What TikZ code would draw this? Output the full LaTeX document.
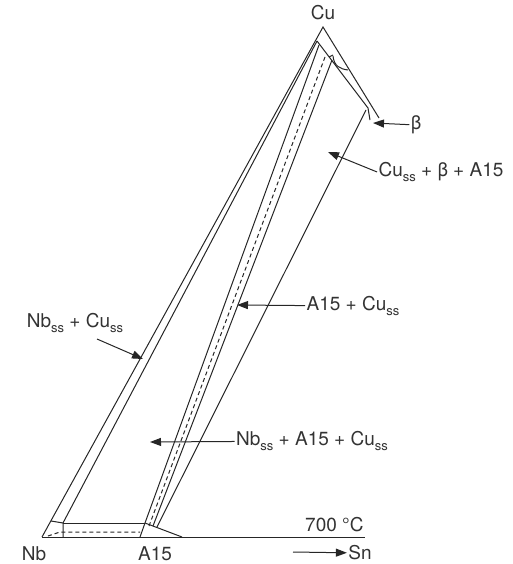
\documentclass[tikz,border=0pt]{standalone}
\usepackage{fontspec}
\setmainfont{TeX Gyre Heros}
\usetikzlibrary{arrows.meta}
\newcommand{\sst}{\raisebox{-0.45ex}{\fontsize{13}{13}\selectfont ss}}

\begin{document}
\begin{tikzpicture}[x=1pt, y=-1pt, line width=1pt, black!85,
  lbl/.style={font=\fontsize{19}{22}\selectfont, inner sep=1pt, text=black!80},
  pointer/.style={-{Triangle[length=11pt,width=8pt]}, line width=1pt}]
  \useasboundingbox (0,0) rectangle (512,564);

  % Eckpunkte
  \coordinate (nb) at (42,537);
  \coordinate (cu) at (323,27);
  \coordinate (rv) at (379,118);
  \coordinate (v1) at (317,41);
  \coordinate (nb2) at (63,523);
  \coordinate (a15) at (145,523);

  % Basis und Raender
  \draw (nb) -- (365,537);
  \draw (nb) -- (cu) -- (rv);

  % Nb_ss + Cu_ss
  \draw (v1) -- (nb2);
  \draw (51,521) -- (nb2) -- (63,537);
  \draw (nb2) -- (a15);
  \draw[dashed, dash pattern=on 4pt off 3pt] (48,536) -- (60,532) -- (140,532);

  % A15
  \draw (a15) -- (140,537);
  \draw (a15) -- (182,537);

  % A15 + Cu_ss
  \draw (319,45) -- (a15);
  \draw[dashed, dash pattern=on 4pt off 3pt] (325,57) -- (149,526);
  \draw (332,60) -- (153,526);

  % Cu_ss, beta
  \draw (v1) -- (368,108) -- (370,120);
  \draw (366,110) -- (157,527);
  \draw (329,57) -- (333,55);
  \draw (333,56) .. controls (334,66) and (340,69) .. (348,70);

  % Beschriftung
  \node[lbl] (lcu) at (323,13) {Cu};
  \node[lbl] (lnb) at (34,554) {Nb};
  \node[lbl] (la15) at (155,554) {A15};
  \node[lbl, anchor=east] (ltemp) at (365,525) {700 °C};
  \node[lbl] (lsn) at (360,553) {Sn};
  \coordinate (sn0) at (293,552);
  \draw[pointer] (sn0) -- (lsn);

  \node[lbl] (lbeta) at (416,125) {β};
  \coordinate (tbeta) at (373,123);
  \draw[pointer] (lbeta) -- (tbeta);

  \node[lbl] (lcbt) at (441,172) {Cu\sst{} + β + A15};
  \coordinate (tcbt) at (328,152);
  \draw[pointer] (lcbt.west) -- (tcbt);

  \node[lbl] (lncu) at (75,323) {Nb\sst{} + Cu\sst};
  \coordinate (tncu) at (143,359);
  \draw[pointer] (97,339) -- (tncu);

  \node[lbl] (lacu) at (353,306) {A15 + Cu\sst};
  \coordinate (tacu) at (237,305);
  \draw[pointer] (lacu) -- (tacu);

  \node[lbl] (lnac) at (312,441) {Nb\sst{} + A15 + Cu\sst};
  \coordinate (tnac) at (150,442);
  \draw[pointer] (lnac) -- (tnac);
\end{tikzpicture}
\end{document}
